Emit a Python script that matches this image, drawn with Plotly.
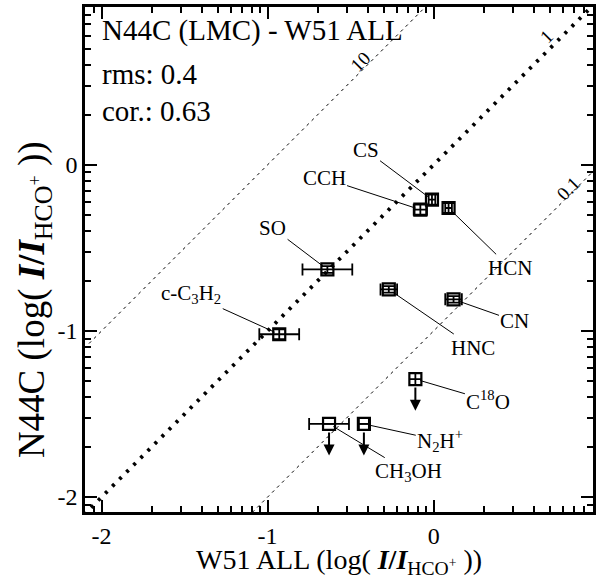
import numpy as np
import plotly.graph_objects as go

# Species and log line-intensity ratios relative to HCO+
species = ["CS", "CCH", "HCN", "SO", "c-C3H2", "HNC", "CN", "C18O", "N2H+", "CH3OH"]
labels = ["CS", "CCH", "HCN", "SO", "c-C<sub>3</sub>H<sub>2</sub>", "HNC", "CN",
          "C<sup>18</sup>O", "N<sub>2</sub>H<sup>+</sup>", "CH<sub>3</sub>OH"]
x_w51 = [-0.01, -0.08, 0.09, -0.64, -0.93, -0.27, 0.12, -0.11, -0.42, -0.63]
y_n44c = [-0.21, -0.27, -0.26, -0.63, -1.02, -0.75, -0.81, -1.29, -1.56, -1.56]
x_err = [0.02, 0.04, 0.02, 0.15, 0.12, 0.05, 0.05, 0.0, 0.03, 0.12]
y_err = [0.03, 0.03, 0.03, 0.02, 0.03, 0.02, 0.02, 0.0, 0.0, 0.0]
upper_limit = [False, False, False, False, False, False, False, True, True, True]

# Label placement (data coordinates of the text)
label_x = [-0.41, -0.66, 0.46, -0.97, -1.46, 0.24, 0.49, 0.33, 0.04, -0.15]
label_y = [0.09, -0.08, -0.62, -0.38, -0.78, -1.10, -0.94, -1.42, -1.66, -1.85]

# Reference ratio lines: N44C/W51 = 10, 1, 0.1
ratios = [10, 1, 0.1]
ratio_text = ["10", "1", "0.1"]

rms_value = 0.4
cor_value = 0.63

XR = [-2.10, 0.96]
YR = [-2.09, 0.95]
FONT = "Liberation Serif"

fig = go.Figure()

# Ratio lines
line_x = np.array([-3.0, 2.0])
for r in ratios:
    off = np.log10(r)
    if r == 1:
        style = dict(color="black", width=3.8, dash="3px,7px")
    else:
        style = dict(color="black", width=1, dash="3px,4px")
    fig.add_trace(go.Scatter(x=line_x, y=line_x + off, mode="lines", line=style,
                             hoverinfo="skip", showlegend=False))

# Data points with error bars
fig.add_trace(go.Scatter(
    x=x_w51, y=y_n44c, mode="markers",
    marker=dict(symbol="square-open", size=12, color="black", line=dict(width=2.2, color="black")),
    error_x=dict(type="data", array=x_err, visible=True, color="black", thickness=1.8, width=6),
    error_y=dict(type="data", array=y_err, visible=True, color="black", thickness=1.8, width=6),
    showlegend=False, text=species, hoverinfo="text+x+y",
))

# Invisible trace that keeps the minor-tick axes drawn
fig.add_trace(go.Scatter(x=[XR[0]], y=[YR[0]], xaxis="x2", yaxis="y2", mode="markers",
                         marker=dict(opacity=0), hoverinfo="skip", showlegend=False))

annotations = []
# Leader lines and labels
for i, lab in enumerate(labels):
    annotations.append(dict(
        x=x_w51[i], y=y_n44c[i], xref="x", yref="y",
        ax=label_x[i], ay=label_y[i], axref="x", ayref="y",
        text=lab, showarrow=True, arrowhead=0, arrowwidth=1, arrowcolor="black",
        standoff=5, font=dict(family=FONT, size=21, color="black"),
    ))

# Upper-limit arrows
for i, ul in enumerate(upper_limit):
    if ul:
        annotations.append(dict(
            x=x_w51[i], y=y_n44c[i] - 0.19, xref="x", yref="y",
            ax=x_w51[i], ay=y_n44c[i], axref="x", ayref="y",
            text="", showarrow=True, arrowhead=2, arrowsize=1.1, arrowwidth=2,
            arrowcolor="black", startstandoff=7,
        ))

# Ratio line labels
ratio_label_pos = [(-0.44, 0.62), (0.68, 0.77), (0.81, -0.14)]
for (tx, ty), t in zip(ratio_label_pos, ratio_text):
    annotations.append(dict(
        x=tx, y=ty, xref="x", yref="y", text=t, showarrow=False, textangle=-45,
        font=dict(family=FONT, size=19, color="black"),
    ))

# Header text
header = ["N44C (LMC) - W51 ALL", f"rms: {rms_value}", f"cor.: {cor_value}"]
header_y = [0.953, 0.868, 0.795]
for t, hy in zip(header, header_y):
    annotations.append(dict(
        x=0.03, y=hy, xref="paper", yref="paper", text=t, showarrow=False,
        xanchor="left", yanchor="middle", font=dict(family=FONT, size=29, color="black"),
    ))

# Axis titles
title_tail = " (log( <b><i>I</i>/<i>I</i></b><sub>HCO<sup>+</sup></sub> ))"
annotations.append(dict(
    x=0.50, y=-0.136, xref="paper", yref="paper", text="W51 ALL" + title_tail,
    showarrow=False, xanchor="center", yanchor="bottom",
    font=dict(family=FONT, size=28, color="black"),
))
annotations.append(dict(
    x=-0.098, y=0.42, xref="paper", yref="paper", text="N44C" + title_tail,
    showarrow=False, xanchor="center", yanchor="middle", textangle=-90,
    font=dict(family=FONT, size=37, color="black"),
))

major = [-2, -1, 0]
major_text = ["-2", "-1", "0"]
minor = [float(n + np.log10(k)) for n in range(-3, 1) for k in range(2, 10)]

# Major ticks (labelled) on the main axes, mirrored to top/right
axis_major = dict(
    tickmode="array", tickvals=major, ticktext=major_text,
    ticks="inside", ticklen=12, tickwidth=2, tickcolor="black",
    showgrid=False, zeroline=False,
    showline=True, linecolor="black", linewidth=2.5, mirror="allticks",
    tickfont=dict(family=FONT, size=24, color="black"),
)
# Log-spaced minor ticks on overlaid axes, also mirrored
axis_minor = dict(
    tickmode="array", tickvals=minor, showticklabels=False,
    ticks="inside", ticklen=6, tickwidth=2, tickcolor="black",
    showgrid=False, zeroline=False, showline=False, mirror="allticks",
)

fig.update_layout(
    width=613, height=582,
    margin=dict(l=85, r=20, t=4, b=70),
    paper_bgcolor="white", plot_bgcolor="white",
    font=dict(family=FONT, color="black"),
    xaxis=dict(range=XR, **axis_major),
    yaxis=dict(range=YR, **axis_major),
    xaxis2=dict(range=XR, overlaying="x", side="bottom", **axis_minor),
    yaxis2=dict(range=YR, overlaying="y", side="left", **axis_minor),
    annotations=annotations,
    showlegend=False,
)

fig.write_html("out.html")
